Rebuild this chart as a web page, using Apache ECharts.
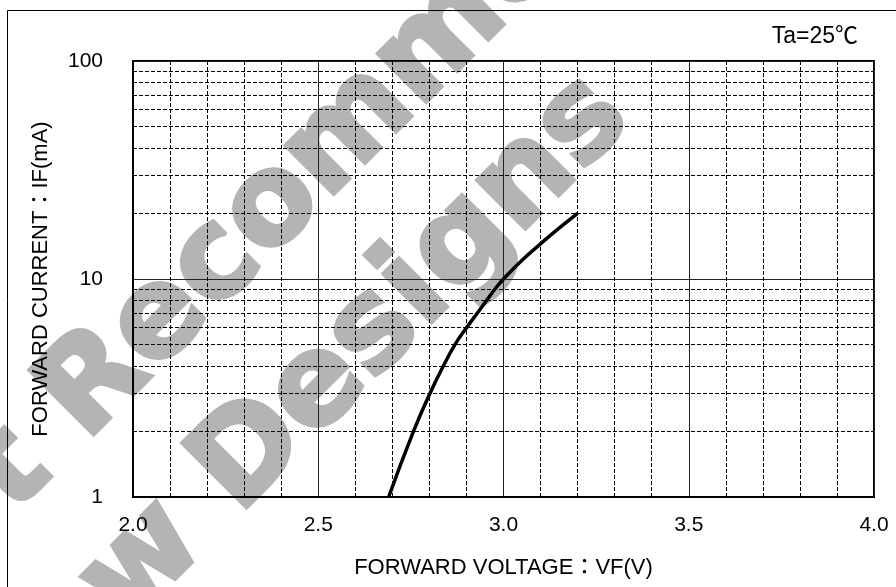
<!DOCTYPE html>
<html>
<head>
<meta charset="utf-8">
<script src="https://cdn.jsdelivr.net/npm/echarts@6/dist/echarts.min.js"></script>
<style>
    html, body { margin: 0; padding: 0; background: #fff; }
    #chart { width: 896px; height: 587px; }
</style>
</head>
<body>
<div id="chart"></div>
<script>
// forward voltage (V) vs forward current (mA)
const vfVolts = [2.69, 2.757, 2.802, 2.838, 2.869, 2.901, 2.930, 2.955, 2.977, 3.0, 3.05, 3.1, 3.15, 3.2];
const ifMilliamps = [1, 2, 3, 4, 5, 6, 7, 8, 9, 10, 12.2, 14.5, 17.1, 20];

// dashed minor grid lines on the log axis
const yMinorLines = [2, 3, 4, 5, 6, 7, 8, 9, 20, 30, 40, 50, 60, 70, 80, 90];

const FONT = "'Liberation Sans', Arial, 'Noto Sans CJK JP', sans-serif";
const MARK_FONT = "bold 125px 'DejaVu Sans', sans-serif";

const chart = echarts.init(document.getElementById('chart'), null, { renderer: 'canvas' });

const curve = vfVolts.map((v, i) => [v, ifMilliamps[i]]);

const watermark = (text, x, y) => ({
    type: 'text',
    z: -10,
    silent: true,
    x: x,
    y: y,
    rotation: Math.PI / 4,
    style: {
        text: text,
        fill: '#b4b4b4',
        stroke: '#b4b4b4',
        lineWidth: 4,
        font: MARK_FONT,
        textAlign: 'center',
        textVerticalAlign: 'middle'
    }
});

const option = {
    animation: false,
    backgroundColor: '#fff',
    grid: {
        left: 133,
        top: 61,
        width: 741,
        height: 436,
        show: true,
        borderColor: '#000',
        borderWidth: 2
    },
    graphic: [
        // outer frame
        {
            type: 'rect',
            z: 100,
            silent: true,
            shape: { x: 7.5, y: 10.5, width: 2000, height: 2000 },
            style: { fill: 'none', stroke: '#000', lineWidth: 1 }
        },
        watermark('Not Recommended', 326, 156),
        watermark('for New Designs', 203, 505),
        {
            type: 'text',
            right: 38,
            top: 25,
            style: {
                text: 'Ta=25℃',
                fill: '#000',
                font: "23px " + FONT
            }
        }
    ],
    xAxis: {
        type: 'value',
        min: 2,
        max: 4,
        interval: 0.5,
        name: 'FORWARD VOLTAGE：VF(V)',
        nameLocation: 'middle',
        nameGap: 60,
        nameTextStyle: { color: '#000', fontSize: 22, fontFamily: FONT },
        axisLine: { show: true, lineStyle: { color: '#000', width: 2 } },
        axisTick: { show: false },
        axisLabel: {
            color: '#000',
            fontSize: 21,
            fontFamily: FONT,
            margin: 18,
            formatter: (v) => v.toFixed(1)
        },
        splitLine: { show: true, lineStyle: { color: '#222', width: 1 } },
        minorTick: { show: false, splitNumber: 5 },
        minorSplitLine: { show: true, lineStyle: { color: '#000', width: 1, type: [4, 2] } }
    },
    yAxis: {
        type: 'log',
        logBase: 10,
        min: 1,
        max: 100,
        name: 'FORWARD CURRENT：IF(mA)',
        nameLocation: 'middle',
        nameGap: 81,
        nameTextStyle: { color: '#000', fontSize: 22, fontFamily: FONT },
        axisLine: { show: true, lineStyle: { color: '#000', width: 2 } },
        axisTick: { show: false },
        axisLabel: { color: '#000', fontSize: 21, fontFamily: FONT, margin: 30 },
        splitLine: { show: true, lineStyle: { color: '#222', width: 1 } }
    },
    series: [
        {
            // carrier for the dashed log grid lines
            type: 'line',
            data: [],
            z: 1,
            silent: true,
            markLine: {
                silent: true,
                symbol: ['none', 'none'],
                label: { show: false },
                lineStyle: { color: '#000', width: 1, type: [4, 2] },
                data: yMinorLines.map((v) => ({ yAxis: v }))
            }
        },
        {
            name: 'IF',
            type: 'line',
            z: 5,
            data: curve,
            smooth: 0.5,
            symbol: 'none',
            lineStyle: { color: '#000', width: 3.5 }
        }
    ]
};

chart.setOption(option);
</script>
</body>
</html>
